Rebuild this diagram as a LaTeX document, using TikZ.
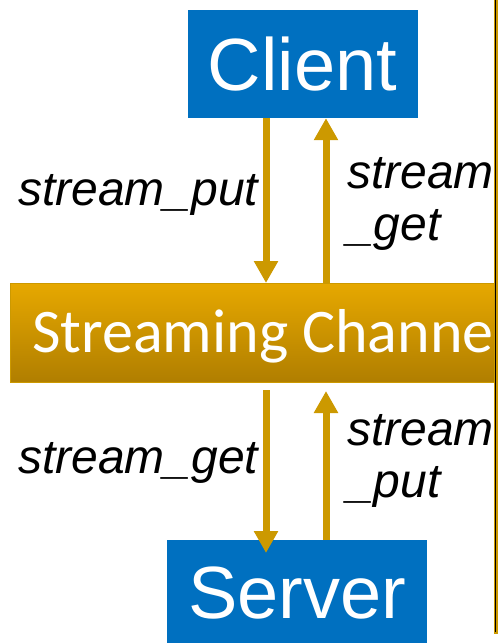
\documentclass[tikz,border=0pt]{standalone}
\usepackage{fontspec}
\setmainfont{Liberation Sans}
\newfontfamily\chanfont{Carlito}
\usetikzlibrary{arrows.meta,positioning}

\definecolor{boxblue}{HTML}{0070C0}
\definecolor{flowgold}{HTML}{CC9900}
\definecolor{chantop}{HTML}{E6A800}
\definecolor{chanbot}{HTML}{B07E00}

\tikzset{
	blockbox/.style = {fill = boxblue, text = white, inner sep = 0pt, font = \fontsize{74}{80}\selectfont},
	flow/.style = {flowgold, line width = 7pt, -{Triangle[width = 23pt, length = 22pt]}},
	lbl/.style = {inner sep = 0pt, align = left, font = \fontsize{48}{52}\selectfont\itshape},
}

\begin{document}
\begin{tikzpicture}[x = 1pt, y = -1pt]
	 \useasboundingbox (0, 0) rectangle (498, 643);
	 
	 \node[blockbox, minimum width = 230pt, minimum height = 108pt] (client) at (302.5, 64) {Client};
	 \node[draw = flowgold, line width = 1pt, top color = chantop, bottom color = chanbot,
	 minimum width = 600pt, minimum height = 99pt, anchor = north west] (chan) at (10, 283) {};
	 \node[anchor = base west, inner sep = 0pt, text = white, font = \chanfont\fontsize{62}{70}\selectfont] (chantext) at (32, 352) {Streaming Channel};
	 \node[blockbox, minimum width = 260pt, minimum height = 106pt, anchor = north west] (server) at (167, 540) {Server};
	 
	 \coordinate (lane1) at (266, 0);
	 \coordinate (lane2) at (326, 0);
	 
	 \draw[flow] (client.south -| lane1) -- (chan.north -| lane1);
	 \draw[flow] (chan.north -| lane2) -- (client.south -| lane2);
	 \draw[flow, shorten < = 7pt, shorten > = -13pt] (chan.south -| lane1) -- (server.north -| lane1);
	 \draw[flow, shorten > = 8pt] (server.north -| lane2) -- (chan.south -| lane2);
	 
	 % two-line labels: base is the last line
	 \node[lbl, anchor = base west] (putdown) at (18, 205) {stream\_put};
	 \node[lbl, anchor = base west] (getup) at (347, 240) {stream\\\_get};
	 \node[lbl, anchor = base west] (getdown) at (18, 473) {stream\_get};
	 \node[lbl, anchor = base west] (putup) at (347, 497) {stream\\\_put};
	 
	 \draw[flowgold, line width = 4pt] (495.5, 0) -- (495.5, 634);
	 \draw[black, line width = 1.5pt] (495.5, 0) -- (495.5, 632);
\end{tikzpicture}
\end{document}
